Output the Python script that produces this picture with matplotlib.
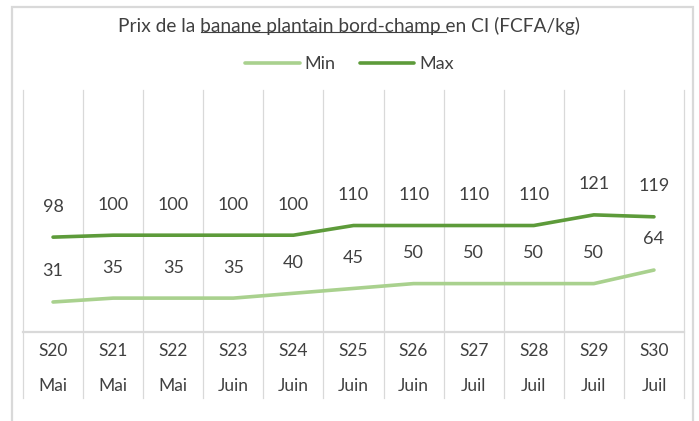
import matplotlib
matplotlib.use("Agg")
import matplotlib.pyplot as plt
from matplotlib.lines import Line2D
from matplotlib.patches import Rectangle
from matplotlib.transforms import blended_transform_factory

semaines = ["S20", "S21", "S22", "S23", "S24", "S25", "S26", "S27", "S28", "S29", "S30"]
mois = ["Mai", "Mai", "Mai", "Juin", "Juin", "Juin", "Juin", "Juil", "Juil", "Juil", "Juil"]
prix_min = [31, 35, 35, 35, 40, 45, 50, 50, 50, 50, 64]
prix_max = [98, 100, 100, 100, 100, 110, 110, 110, 110, 121, 119]

couleur_min = "#a9d18e"
couleur_max = "#5d9b3a"
couleur_grille = "#d9d9d9"
couleur_texte = "#404040"

plt.rcParams["font.family"] = ["Lato", "DejaVu Sans"]

W, H = 699, 421
fig = plt.figure(figsize=(W / 100, H / 100), dpi=100)

# cadre du graphique
fig.patches.append(Rectangle((12 / W, -0.05), 681 / W, 1 - 7 / H + 0.05,
                             transform=fig.transFigure, fill=False,
                             edgecolor=couleur_grille, linewidth=1.6))

x0, x1, y_haut, y_axe = 23, 684, 90, 332
ax = fig.add_axes([x0 / W, 1 - y_axe / H, (x1 - x0) / W, (y_axe - y_haut) / H])
ax.set_xlim(-0.5, len(semaines) - 0.5)
ax.set_ylim(0, 250)
for s in ax.spines.values():
    s.set_visible(False)
ax.set_xticks([])
ax.set_yticks([])

# séparateurs verticaux, prolongés dans la zone des étiquettes
bas = -(398 - y_axe) / (y_axe - y_haut)
for i in range(len(semaines) + 1):
    ax.plot([i - 0.5, i - 0.5], [1, bas], transform=ax.get_xaxis_transform(),
            color=couleur_grille, linewidth=0.9, clip_on=False, zorder=0)
ax.plot([-0.5, len(semaines) - 0.5], [0, 0], transform=ax.get_xaxis_transform(),
        color=couleur_grille, linewidth=1.6, clip_on=False, zorder=0)

x = list(range(len(semaines)))
ax.plot(x, prix_min, color=couleur_min, linewidth=2.6, solid_capstyle="round",
        solid_joinstyle="round", label="Min", clip_on=False)
ax.plot(x, prix_max, color=couleur_max, linewidth=2.6, solid_capstyle="round",
        solid_joinstyle="round", label="Max", clip_on=False)

for serie in (prix_min, prix_max):
    for xi, v in zip(x, serie):
        ax.annotate(str(v), (xi, v), xytext=(0, 22), textcoords="offset points",
                    ha="center", va="center", fontsize=13, color=couleur_texte)

# étiquettes de catégories sur deux niveaux
trans_cat = blended_transform_factory(ax.transData, fig.transFigure)
for xi, s, m in zip(x, semaines, mois):
    ax.text(xi, 1 - 351 / H, s, transform=trans_cat,
            ha="center", va="center", fontsize=12.5, color=couleur_texte)
    ax.text(xi, 1 - 386 / H, m, transform=trans_cat,
            ha="center", va="center", fontsize=12.5, color=couleur_texte)

# légende
fig.legend(handles=[Line2D([], [], color=couleur_min, linewidth=2.6, solid_capstyle="round"),
                    Line2D([], [], color=couleur_max, linewidth=2.6, solid_capstyle="round")],
           labels=["Min", "Max"], loc="center", bbox_to_anchor=(0.5, 1 - 64 / H),
           ncol=2, frameon=False, fontsize=13, handlelength=3.0, handletextpad=0.25,
           columnspacing=1.4, labelcolor=couleur_texte)

# titre avec une partie soulignée
debut = "Prix de la "
souligne = "banane plantain bord-champ "
fin = "en CI (FCFA/kg)"
taille_titre = 13.8
titre = fig.text(0.5, 1 - 26 / H, debut + souligne + fin, ha="center", va="center",
                 fontsize=taille_titre, color=couleur_texte)
fig.canvas.draw()
rend = fig.canvas.get_renderer()
bb = titre.get_window_extent(rend)
tmp = fig.text(0, 0, debut, fontsize=taille_titre)
w1 = tmp.get_window_extent(rend).width
tmp.set_text(debut + souligne)
w2 = tmp.get_window_extent(rend).width
tmp.remove()
y_ligne = (bb.y0 + 3) / H
fig.add_artist(Line2D([(bb.x0 + w1) / W, (bb.x0 + w2) / W], [y_ligne, y_ligne],
                      transform=fig.transFigure, color=couleur_texte, linewidth=0.8))

fig.savefig("out.png", dpi=100)
